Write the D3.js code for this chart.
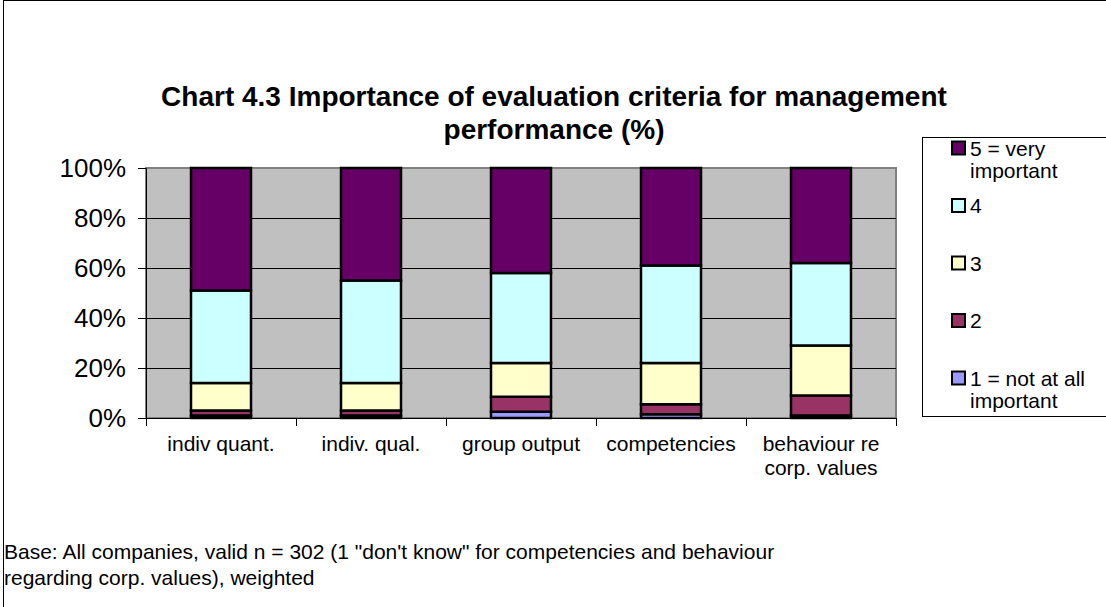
<!DOCTYPE html>
<html>
<head>
<meta charset="utf-8">
<script src="https://cdn.jsdelivr.net/npm/d3@7"></script>
<style>
  body { margin: 0; background: #fff; }
  text { font-family: "Liberation Sans", Arial, sans-serif; fill: #000; }
</style>
</head>
<body>
<svg id="chart" width="1106" height="607"></svg>
<script>
// categories and values (% of companies, stacked from "1" upwards)
const categories = [
  ["indiv quant."],
  ["indiv. qual."],
  ["group output"],
  ["competencies"],
  ["behaviour re", "corp. values"],
];
const seriesNames = ["1", "2", "3", "4", "5"];
const legendLabels = [
  ["1 = not at all", "important"],
  ["2"],
  ["3"],
  ["4"],
  ["5 = very", "important"],
];
const notImportant = [1, 1, 2.5, 1.5, 1];
const rating2 = [2, 2, 6, 4, 8];
const rating3 = [11, 11, 13.5, 16.5, 20];
const rating4 = [37, 41, 36, 39, 33];
const veryImportant = [49, 45, 42, 39, 38];
const yTicks = [0, 20, 40, 60, 80, 100];
const colors = ["#9999ff", "#993366", "#ffffcc", "#ccffff", "#660066"];

const svg = d3.select("#chart");

//outer chart border
svg.append("rect")
  .attr("x", 3.5).attr("y", 0.5)
  .attr("width", 1120).attr("height", 620)
  .attr("fill", "none").attr("stroke", "#000").attr("stroke-width", 1);

//title
const title = svg.append("text")
  .attr("text-anchor", "middle")
  .attr("font-size", 28)
  .attr("font-weight", "bold");
title.append("tspan").attr("x", 554).attr("y", 106)
  .text("Chart 4.3 Importance of evaluation criteria for management");
title.append("tspan").attr("x", 554).attr("y", 139)
  .text("performance (%)");

const plot = { left: 146, right: 896, top: 168, bottom: 418 };

const rows = categories.map((c, i) => ({
  name: c.join(" "),
  lines: c,
  "1": notImportant[i],
  "2": rating2[i],
  "3": rating3[i],
  "4": rating4[i],
  "5": veryImportant[i],
}));

const x = d3.scaleBand()
  .domain(rows.map((d) => d.name))
  .range([plot.left, plot.right])
  .paddingInner(0.6)
  .paddingOuter(0.3);

const y = d3.scaleLinear().domain([0, 100]).range([plot.bottom, plot.top]);

const stack = d3.stack().keys(seriesNames)(rows);

//plot area background
svg.append("rect")
  .attr("x", plot.left).attr("y", plot.top)
  .attr("width", plot.right - plot.left).attr("height", plot.bottom - plot.top)
  .attr("fill", "#c0c0c0").attr("stroke", "#808080").attr("stroke-width", 2);

//gridlines
svg.append("g")
  .selectAll("line")
  .data(yTicks.slice(1, -1))
  .enter()
  .append("line")
  .attr("x1", plot.left).attr("x2", plot.right)
  .attr("y1", (d) => y(d) + 0.5).attr("y2", (d) => y(d) + 0.5)
  .attr("stroke", "#000").attr("stroke-width", 1);

//bars
svg.append("g")
  .selectAll("g")
  .data(stack)
  .enter()
  .append("g")
  .attr("fill", (d, i) => colors[i])
  .selectAll("rect")
  .data((d) => d)
  .enter()
  .append("rect")
  .attr("x", (d) => x(d.data.name))
  .attr("width", x.bandwidth())
  .attr("y", (d) => y(d[1]))
  .attr("height", (d) => y(d[0]) - y(d[1]))
  .attr("stroke", "#000")
  .attr("stroke-width", 2.5);

//y axis
const yAxis = svg.append("g")
  .attr("transform", "translate(" + plot.left + ",0)")
  .call(d3.axisLeft(y).tickValues(yTicks).tickFormat((d) => d + "%").tickSize(8).tickPadding(12));
yAxis.select(".domain").attr("stroke", "#000");
yAxis.selectAll("text").attr("font-size", 26).attr("font-family", "Liberation Sans, Arial, sans-serif");

//x axis, ticks between categories
const step = x.step();
const xg = svg.append("g");
xg.append("line")
  .attr("x1", plot.left).attr("x2", plot.right)
  .attr("y1", plot.bottom + 0.5).attr("y2", plot.bottom + 0.5)
  .attr("stroke", "#000");
xg.selectAll(".tick")
  .data(d3.range(rows.length + 1))
  .enter()
  .append("line")
  .attr("x1", (i) => plot.left + i * step + 0.5)
  .attr("x2", (i) => plot.left + i * step + 0.5)
  .attr("y1", plot.bottom).attr("y2", plot.bottom + 8)
  .attr("stroke", "#000");

xg.selectAll(".label")
  .data(rows)
  .enter()
  .append("text")
  .attr("text-anchor", "middle")
  .attr("font-size", 21)
  .selectAll("tspan")
  .data((d) => d.lines.map((l) => ({ l: l, cx: x(d.name) + x.bandwidth() / 2 })))
  .enter()
  .append("tspan")
  .attr("x", (d) => d.cx)
  .attr("y", (d, i) => 451 + i * 24)
  .text((d) => d.l);

//legend
const legend = svg.append("g");
legend.append("rect")
  .attr("x", 922.5).attr("y", 137.5)
  .attr("width", 200).attr("height", 279)
  .attr("fill", "#fff").attr("stroke", "#000");

const legendItems = legend.selectAll(".item")
  .data(seriesNames.slice().reverse())
  .enter()
  .append("g")
  .attr("transform", (d, i) => "translate(952," + (148 + i * 57.5) + ")");

legendItems.append("rect")
  .attr("x", 0).attr("y", -6.5)
  .attr("width", 13).attr("height", 13)
  .attr("fill", (d) => colors[+d - 1])
  .attr("stroke", "#000").attr("stroke-width", 2);

legendItems.append("text")
  .attr("font-size", 21)
  .selectAll("tspan")
  .data((d) => legendLabels[+d - 1])
  .enter()
  .append("tspan")
  .attr("x", 18)
  .attr("y", (d, i) => 7.5 + i * 22.5)
  .text((d) => d);

//footnote
const note = svg.append("text").attr("font-size", 21);
note.append("tspan").attr("x", 4).attr("y", 559)
  .text("Base: All companies, valid n = 302 (1 \"don't know\" for competencies and behaviour");
note.append("tspan").attr("x", 4).attr("y", 585)
  .text("regarding corp. values), weighted");
</script>
</body>
</html>
